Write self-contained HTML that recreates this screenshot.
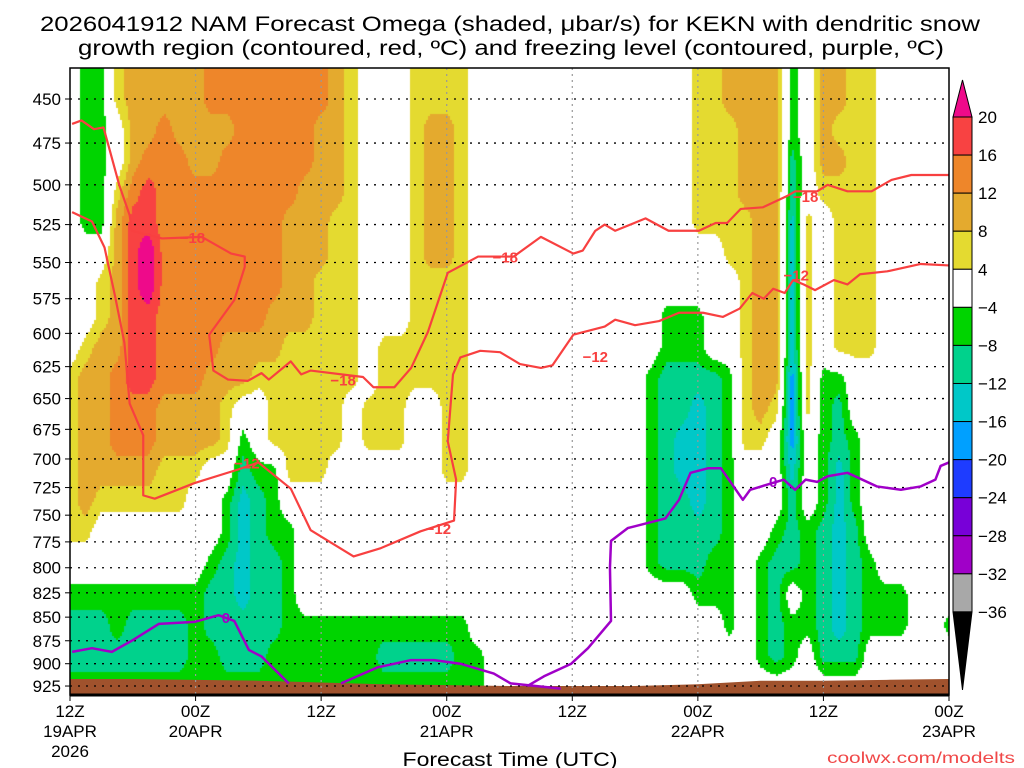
<!DOCTYPE html>
<html><head><meta charset="utf-8"><style>
html,body{margin:0;padding:0;background:#fff;width:1024px;height:768px;overflow:hidden}
#wrap{position:relative;width:1024px;height:768px}
canvas{position:absolute;left:70px;top:68px}
svg{position:absolute;left:0;top:0}
text{font-family:"Liberation Sans","DejaVu Sans",sans-serif;fill:#000}
</style></head><body>
<div id="wrap">
<canvas id="shade" width="879" height="627"></canvas>
<svg id="svg" width="1024" height="768">
<text x="510" y="31" text-anchor="middle" font-size="21" textLength="940" lengthAdjust="spacingAndGlyphs">2026041912 NAM Forecast Omega (shaded, μbar/s) for KEKN with dendritic snow</text>
<text x="511" y="55" text-anchor="middle" font-size="21" textLength="866" lengthAdjust="spacingAndGlyphs">growth region (contoured, red, ºC) and freezing level (contoured, purple, ºC)</text>
<text x="510" y="766" text-anchor="middle" font-size="19" textLength="215" lengthAdjust="spacingAndGlyphs">Forecast Time (UTC)</text>
<text x="1015" y="763" text-anchor="end" font-size="16" textLength="188" lengthAdjust="spacingAndGlyphs" style="fill:#f04848">coolwx.com/modelts</text>
</svg>
</div>
<script>
// ---- data ----
const pressureLevels = [433,450,467,486,504,524,544,565,588,610,634,658,684,710,738,766,796,827,859,892,927,963];
const timeStep = 1.5; // hours between omega columns
const omegaRows = [
"w g2 y o5 O8 o y w3 y4 w14 y2 o4 g w o2 y2 w5",
"w g2 y o5 O8 o y w3 y4 w14 y2 o4 g w o2 y2 w5",
"w g2 w o2 O o4 O5 o2 y w3 y o2 y w14 y3 o3 g w o y3 w5",
"w g2 w o O3 o2 O6 o2 y w3 y o2 y w14 y3 o3 t w o2 y2 w5",
"w g2 y O r O9 o3 y w3 y o2 y w14 y3 o3 t w y4 w5",
"w g2 o r2 O8 o3 y2 w3 y o2 y w14 y4 o2 c y w y3 w5",
"w3 o r m O8 o3 y2 w3 y o2 y w14 w2 y2 o2 c y w y3 w5",
"w2 y o r m O8 o2 y3 w3 y4 w14 w3 y o2 c y w y3 w5",
"w2 y o r2 O7 o3 y3 w3 y4 w11 w g3 w2 y o2 c y w y3 w5",
"w y o2 r2 O4 o4 y5 w y6 w11 w g3 w2 y o2 c y w y3 w5",
"y o2 O r2 O3 o3 y7 w y6 w11 g t4 g y o2 b y g2 w7",
"y o2 O3 o4 y w2 y5 w y3 w2 y2 w11 g t2 c t g y o y b y g t w7",
"y o2 O3 o4 y g w y5 w y3 w2 y2 w11 g t c2 t g y2 w b w g t g w6",
"y o5 y3 w2 t g2 y3 w7 y2 w11 g t c2 t g w3 c w g c g w6",
"y o y6 w2 g c t g w23 g t2 c t g w3 t w g c g w6",
"y2 w8 g c t g2 w22 g t4 g w2 g t g t c t w6",
"w9 g t c t2 g w22 g t3 g2 w g t2 g t c t g w5",
"g9 t2 c t2 g w23 w2 g3 w g t w g t c t g3 w3",
"t3 g t4 g t5 g12 w16 g w g t g2 t c t g3 w2 g",
"t8 g2 t3 g7 t5 g2 w17 g t g w t3 w6",
"g27 w30",
"g27 w30"
];
const codeValues = {w:0,y:6,o:10,O:14,r:18,m:24,g:-6,t:-10,c:-14,b:-18,B:-22};
const terrainTimes = [0,6,12,18,24,30,36,42,48,54,60,66,72,78,84];
const terrainPressure = [917,917,918,919,921,923,924,925,925,925,923,919,919,918,917];
const minus18Times = [0.2,1.1,2.3,3.2,3.7,4.7,5.7,5.9,8.8,12.6,15.4,16.7,16.7,15.7,13.3,13.7,15.1,17.0,18.3,19.0,21.1,22.1,23.0,28.0,29.0,31.0,32.6,34.2,36.1,39.0,42.4,45.0,48.1,49.0,50.2,51.1,52.1,55.0,57.2,60.1,61.7,62.8,64.1,66.2,68.5,69.3,71.4,72.4,74.3,76.6,78.5,80.4,82.3,84];
const minus18Press = [464,462,467,466,477,500,519,529,534,533,544,546,553,576,601,628,635,636,630,635,621,631,628,633,641,641,626,599,557,546,546,533,544,542,529,525,529,521,529,529,524,524,515,514,507,504,504,500,504,504,497,494,494,494];
const minus12Times = [0.2,2.1,3.3,4.3,5.2,5.7,7.0,7.0,8.1,11.9,16.1,18.0,21.1,23.0,27.1,29.7,33.5,36.7,36.9,36.1,36.6,37.3,39.2,41.1,43.0,45.0,46.1,48.1,51.1,52.1,54.0,56.3,58.2,60.5,62.4,64.0,65.2,66.3,67.2,68.3,69.1,70.1,71.2,73.0,74.3,75.5,78.1,81.3,84];
const minus12Press = [517,523,540,573,607,654,680,732,735,721,709,703,726,764,789,781,765,755,718,685,631,618,613,614,623,626,624,601,595,590,594,591,585,585,588,582,571,575,568,571,562,565,569,562,565,558,556,551,552];
const zeroSeg1Times = [0.2,2.1,4,5.9,8.5,11.9,14.2,15.7,17.1,18.3,20.9];
const zeroSeg1Press = [887,883,887,875,857,855,848,854,885,892,922];
const zeroSeg2Times = [25.9,29.4,32.6,34.8,37.3,40.5,42.1,46.9];
const zeroSeg2Press = [922,904,896,896,900,911,922,928];
const zeroSeg3Times = [43.7,45.3,47.9,49.5,51.7,51.6,51.7,53.3,56.9,58.2,59.3,61.0,62.2,64.3,65.0,68.2,69.3,70.3,71.4,72.4,74.3,77.1,79.4,81.3,82.7,83.2,84];
const zeroSeg3Press = [925,914,900,883,854,800,774,762,753,736,712,708,708,736,727,718,727,718,720,715,712,724,727,724,718,706,703];
const labelTexts = ["−18","−18","−18","−18","−12","−12","−12","−12","0","0"];
const labelTimes = [11.7,26.1,41.6,70.3,16.9,35.2,50.2,69.4,14.9,67.2];
const labelPress = [533,635,546,507,703,762,617,558,850,719];
const yTicks = [450,475,500,525,550,575,600,625,650,675,700,725,750,775,800,825,850,875,900,925];
const xTickHours = [0,12,24,36,48,60,72,84];
const xTickLine1 = ["12Z","00Z","12Z","00Z","12Z","00Z","12Z","00Z"];
const xTickLine2 = ["19APR","20APR","","21APR","","22APR","","23APR"];
const xTickLine3 = ["2026","","","","","","",""];
const cbarValues = [20,16,12,8,4,-4,-8,-12,-16,-20,-24,-28,-32,-36];
const cbarLabels = ["20","16","12","8","4","−4","−8","−12","−16","−20","−24","−28","−32","−36"];

// ---- scales (log-pressure axis) ----
const X0=70,X1=949,Y0=68,Y1=695,LOGK=814.7;
function xOf(t){return X0+t*(X1-X0)/84;}
function yOf(p){return 99+LOGK*Math.log(p/450);}
function tOf(x){return (x-X0)*84/(X1-X0);}
function pOf(y){return 450*Math.exp((y-99)/LOGK);}
function colorOf(v){
  if(v>=20)return"#ee0a8a"; if(v>=16)return"#f84242"; if(v>=12)return"#ee862a";
  if(v>=8)return"#e4aa2e"; if(v>=4)return"#e4da30"; if(v>-4)return null;
  if(v>-8)return"#00d400"; if(v>-12)return"#00d28c"; if(v>-16)return"#00c8c8";
  if(v>-20)return"#00a0ff"; if(v>-24)return"#1e3cff"; if(v>-28)return"#7800d8";
  if(v>-32)return"#a000c8"; if(v>-36)return"#a8a8a8"; return"#000";
}
const grid = omegaRows.map(function(s){
  const out=[]; s.trim().split(/\s+/).forEach(function(tok){
    const ch=tok[0], n=tok.length>1?parseInt(tok.slice(1)):1;
    for(let k=0;k<n;k++)out.push(codeValues[ch]);
  });
  while(out.length<57)out.push(0); return out;
});
function rowIndex(p){
  const lp=Math.log(p), L=pressureLevels;
  if(p<=L[0])return 0;
  for(let i=0;i<L.length-1;i++){
    if(p<=L[i+1])return i+(lp-Math.log(L[i]))/(Math.log(L[i+1])-Math.log(L[i]));
  }
  return L.length-1.0001;
}
function val(t,p){
  let r=Math.min(pressureLevels.length-1.0001,rowIndex(p)), c=t/timeStep;
  c=Math.max(0,Math.min(55.9999,c));
  const r0=Math.floor(r),c0=Math.floor(c),fr=r-r0,fc=c-c0;
  const a=grid[r0][c0],b=grid[r0][c0+1],d=grid[r0+1][c0],e=grid[r0+1][c0+1];
  return (a*(1-fc)+b*fc)*(1-fr)+(d*(1-fc)+e*fc)*fr;
}
const cv=document.getElementById('shade'), ctx=cv.getContext('2d');
for(let py=0;py<627;py+=2){
  for(let px=0;px<879;px+=2){
    const col=colorOf(val(tOf(X0+px+1),pOf(Y0+py+1)));
    if(col){ctx.fillStyle=col;ctx.fillRect(px,py,2,2);}
  }
}
const NS="http://www.w3.org/2000/svg", svg=document.getElementById('svg');
function mk(tag,attrs,parent){const e=document.createElementNS(NS,tag);for(const k in attrs)e.setAttribute(k,attrs[k]);(parent||svg).appendChild(e);return e;}
let tp="M"+xOf(0)+","+Y1;
terrainTimes.forEach(function(t,i){tp+=" L"+xOf(t)+","+yOf(terrainPressure[i]);});
tp+=" L"+xOf(84)+","+Y1+" Z";
const terr=mk('path',{d:tp,fill:"#a0522d"});


yTicks.forEach(function(p){
  const g=mk('line',{x1:X0,x2:X1,y1:yOf(p),y2:yOf(p),stroke:"#000","stroke-width":1.3,"stroke-dasharray":"2,6"});
  
  
  const tk=mk('line',{x1:X0-5,x2:X0,y1:yOf(p),y2:yOf(p),stroke:"#000","stroke-width":1});
  
  
  const lb=mk('text',{x:X0-9,y:yOf(p)+6,"text-anchor":"end","font-size":17});
  lb.textContent=p;
  
  
});
xTickHours.forEach(function(h,i){
  if(h>0&&h<84){
    const v=mk('line',{x1:xOf(h),x2:xOf(h),y1:Y0,y2:Y1,stroke:"#999","stroke-width":1.2,"stroke-dasharray":"2,4"});
    
    
  }
  const tk=mk('line',{x1:xOf(h),x2:xOf(h),y1:Y1,y2:Y1+6,stroke:"#000","stroke-width":1});
  
  
  [xTickLine1[i],xTickLine2[i],xTickLine3[i]].forEach(function(s,j){
    if(!s)return;
    const lb=mk('text',{x:xOf(h),y:717+j*20,"text-anchor":"middle","font-size":17});
    lb.textContent=s;
    
    
  });
});
function line(ts,ps,color,w,name){
  const pts=ts.map(function(t,i){return xOf(t)+","+yOf(ps[i]);}).join(" ");
  const pl=mk('polyline',{points:pts,fill:"none",stroke:color,"stroke-width":w,"stroke-linejoin":"round"});
  
  
}
line(minus18Times,minus18Press,"#f84040",2.2,"contour-minus18");
line(minus12Times,minus12Press,"#f84040",2.2,"contour-minus12");
line(zeroSeg1Times,zeroSeg1Press,"#a000c8",2.5,"freezing-level-1");
line(zeroSeg2Times,zeroSeg2Press,"#a000c8",2.5,"freezing-level-2");
line(zeroSeg3Times,zeroSeg3Press,"#a000c8",2.5,"freezing-level-3");
labelTexts.forEach(function(s,i){
  const col=s==="0"?"#a000c8":"#f84040";
  const lb=mk('text',{x:xOf(labelTimes[i]),y:yOf(labelPress[i])+6,"text-anchor":"middle","font-size":15,"font-weight":"bold",style:"fill:"+col});
  lb.textContent=s;
  
  
});
const fr=mk('rect',{x:X0,y:Y0,width:X1-X0,height:Y1-Y0,fill:"none",stroke:"#000","stroke-width":1.5});


const bl=mk('line',{x1:X0,x2:X1,y1:Y1,y2:Y1,stroke:"#000","stroke-width":3});


const CBX=953,CBW=19,CBT=117,CBS=38.07;
const cbTop=mk('polygon',{points:CBX+","+CBT+" "+(CBX+CBW)+","+CBT+" "+(CBX+CBW/2)+",80",fill:colorOf(22),stroke:"#000","stroke-width":1});


for(let k=0;k<cbarValues.length-1;k++){
  const mid=(cbarValues[k]+cbarValues[k+1])/2;
  const r=mk('rect',{x:CBX,y:CBT+k*CBS,width:CBW,height:CBS,fill:colorOf(mid)||"#fff",stroke:"#000","stroke-width":1});
  
  
}
const botY=CBT+(cbarValues.length-1)*CBS;
const cbBot=mk('polygon',{points:CBX+","+botY+" "+(CBX+CBW)+","+botY+" "+(CBX+CBW/2)+",690",fill:"#000",stroke:"#000","stroke-width":1});


cbarLabels.forEach(function(s,k){
  const lb=mk('text',{x:978,y:CBT+k*CBS+6,"font-size":17});
  lb.textContent=s;
  
  
});
</script>
</body></html>
